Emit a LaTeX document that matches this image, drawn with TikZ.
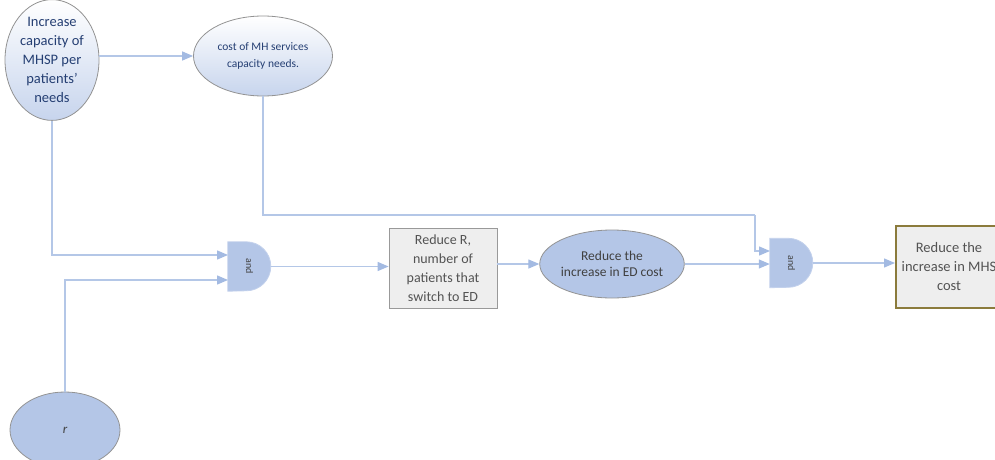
\documentclass[tikz,border=0pt]{standalone}
\usepackage{fontspec}
\setmainfont{Carlito}
\usetikzlibrary{shapes.geometric,arrows.meta}
\definecolor{lineblue}{HTML}{B4C7E7}
\definecolor{tipblue}{HTML}{A3BAE2}
\definecolor{fillblue}{HTML}{B4C6E7}
\definecolor{navy}{HTML}{253F73}
\definecolor{darkgray}{HTML}{404040}
\definecolor{olive}{HTML}{8B7B3C}
\tikzset{
  arr/.style={draw=lineblue, line width=1.3pt, -{Triangle[length=11pt,width=9pt,fill=tipblue,color=tipblue]}},
  gradell/.style={ellipse, draw=gray!85, line width=0.8pt, top color=white, bottom color=fillblue!75, text=navy, align=center, inner sep=0pt},
  blueell/.style={ellipse, draw=gray!85, line width=0.8pt, fill=fillblue, text=darkgray, align=center, inner sep=0pt},
  graybox/.style={rectangle, draw=gray!80, line width=0.8pt, fill=gray!13, text=darkgray!90, align=center, inner sep=0pt},
  gatenode/.style={rectangle, minimum width=43pt, minimum height=49pt, inner sep=0pt},
  gateshape/.style={fill=fillblue, draw=fillblue!80!white, line width=0.8pt}
}
\begin{document}
\begin{tikzpicture}[x=1pt,y=-1pt]
\useasboundingbox (0,0) rectangle (995,460);
\clip (0,0) rectangle (995,460);
% nodes
\node[gradell, minimum width=94pt, minimum height=117pt, font=\fontsize{14.5}{19}\selectfont] (A) at (52,60) {Increase\\capacity of\\MHSP per\\patients'\\needs};
\node[gradell, minimum width=139pt, minimum height=80pt, font=\fontsize{11.5}{17}\selectfont] (B) at (263,56) {cost of MH services\\capacity needs.};
\node[blueell, minimum width=110pt, minimum height=76pt, font=\fontsize{13}{14}\selectfont\itshape] (r) at (65,430) {r};
\node[graybox, minimum width=108pt, minimum height=80pt, font=\fontsize{14}{19}\selectfont] (box1) at (443,268) {Reduce R,\\number of\\patients that\\switch to ED};
\node[blueell, minimum width=122pt, minimum height=68pt, font=\fontsize{13.5}{16}\selectfont] (C) at (612,264) {Reduce the\\increase in ED cost};
\node[graybox, draw=olive, line width=2pt, minimum width=106pt, minimum height=82pt, font=\fontsize{14.5}{19}\selectfont] (box2) at (949,267) {Reduce the\\increase in MHS\\cost};
% gates
\node[gatenode] (g1) at (249.5,266.5) {};
\draw[gateshape] (g1.north west) -- ++(18.5pt,0pt) arc[start angle=90,end angle=-90,radius=24.5pt] -- (g1.south west) -- cycle;
\node[rotate=-90, font=\fontsize{10}{10}\selectfont, text=darkgray] at (g1.center) {and};
\node[gatenode] (g2) at (791.5,263) {};
\draw[gateshape] (g2.north west) -- ++(18.5pt,0pt) arc[start angle=90,end angle=-90,radius=24.5pt] -- (g2.south west) -- cycle;
\node[rotate=-90, font=\fontsize{10}{10}\selectfont, text=darkgray] at (g2.center) {and};
% coordinates
\coordinate (g1a) at (228,255);
\coordinate (g1b) at (228,280);
\coordinate (g2a) at (770,251);
\coordinate (bend) at (755,215);
% connectors
\draw[arr] (A.east |- B.west) -- (B.west);
\draw[arr] (A.south) |- (g1a);
\draw[arr] (r.north) |- (g1b);
\draw[arr] (g1.east) -- (g1.east -| box1.west);
\draw[arr] (box1.east |- C.west) -- (C.west);
\draw[arr] (C.east) -- (C.east -| g2.west);
\draw[draw=lineblue, line width=1.3pt] (B.south) |- (bend);
\draw[arr] (bend) |- (g2a);
\draw[arr] (g2.east) -- (g2.east -| box2.west);
\end{tikzpicture}
\end{document}
